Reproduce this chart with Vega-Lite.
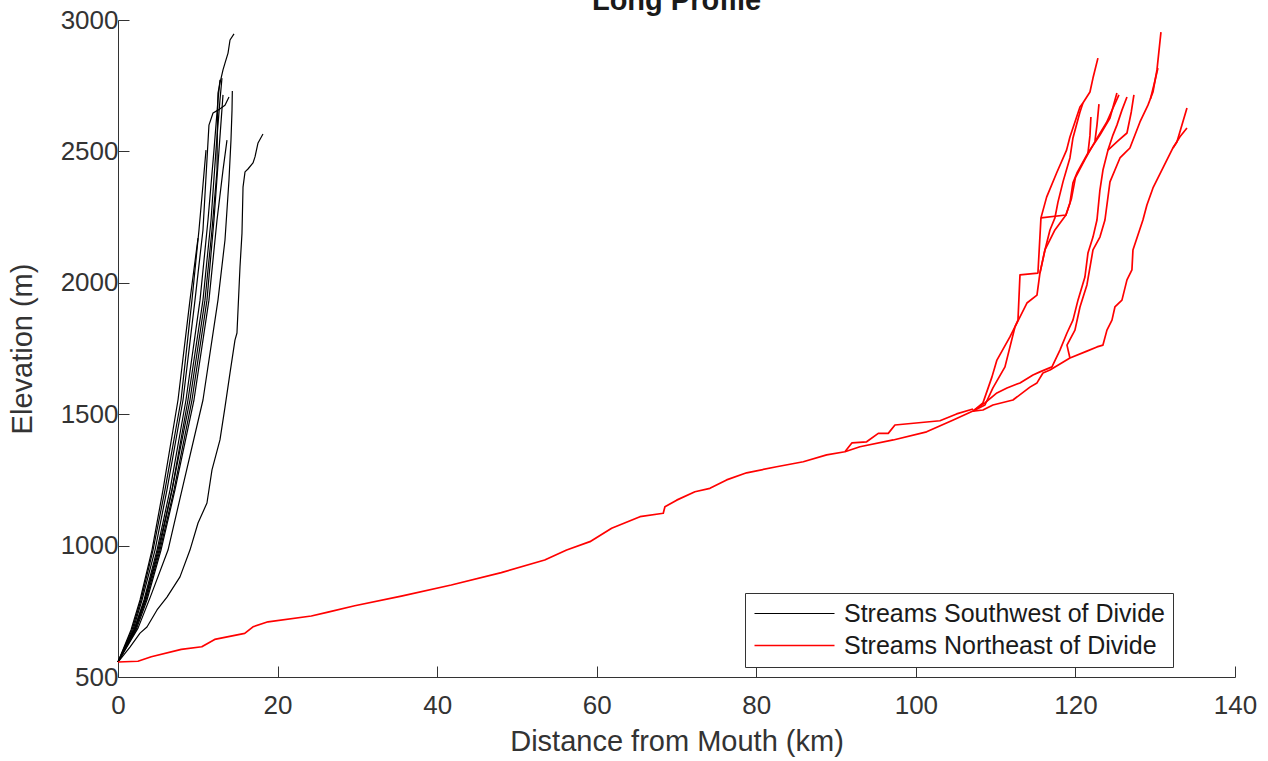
{
  "$schema": "https://vega.github.io/schema/vega-lite/v6.json",
  "autosize": {"type": "none"},
  "padding": {"left": 118, "top": 20, "right": 33, "bottom": 84},
  "width": 1117,
  "height": 657,
  "background": "white",
  "config": {"view": {"stroke": null}, "font": "Liberation Sans"},
  "title": {"text": "Long Profile", "anchor": "middle", "frame": "group", "fontSize": 29, "fontWeight": "bold", "font": "Liberation Sans", "color": "#1a1a1a", "offset": 0, "dy": 9},
  "datasets": {
    "pts": [
      {"s":"b8","g":"SW","x":0,"y":557},{"s":"b8","g":"SW","x":1.63,"y":679},{"s":"b8","g":"SW","x":2.76,"y":793},{"s":"b8","g":"SW","x":4.26,"y":983},{"s":"b8","g":"SW","x":5.64,"y":1212},{"s":"b8","g":"SW","x":7.52,"y":1554},{"s":"b8","g":"SW","x":9.02,"y":1934},{"s":"b8","g":"SW","x":10.03,"y":2170},
      {"s":"b7","g":"SW","x":0,"y":557},{"s":"b7","g":"SW","x":1.75,"y":679},{"s":"b7","g":"SW","x":2.88,"y":793},{"s":"b7","g":"SW","x":4.39,"y":983},{"s":"b7","g":"SW","x":5.89,"y":1212},{"s":"b7","g":"SW","x":7.9,"y":1554},{"s":"b7","g":"SW","x":9.27,"y":1934},{"s":"b7","g":"SW","x":10.15,"y":2201},{"s":"b7","g":"SW","x":10.65,"y":2372},{"s":"b7","g":"SW","x":11.03,"y":2505},
      {"s":"bc","g":"SW","x":0,"y":557},{"s":"bc","g":"SW","x":1.88,"y":679},{"s":"bc","g":"SW","x":3.01,"y":793},{"s":"bc","g":"SW","x":4.64,"y":983},{"s":"bc","g":"SW","x":6.14,"y":1212},{"s":"bc","g":"SW","x":8.15,"y":1554},{"s":"bc","g":"SW","x":9.65,"y":1934},{"s":"bc","g":"SW","x":10.65,"y":2201},{"s":"bc","g":"SW","x":11.15,"y":2467},{"s":"bc","g":"SW","x":11.4,"y":2600},{"s":"bc","g":"SW","x":11.91,"y":2646},{"s":"bc","g":"SW","x":12.53,"y":2657},{"s":"bc","g":"SW","x":13.41,"y":2676},{"s":"bc","g":"SW","x":13.91,"y":2707},
      {"s":"ba","g":"SW","x":0,"y":557},{"s":"ba","g":"SW","x":2.01,"y":679},{"s":"ba","g":"SW","x":3.26,"y":793},{"s":"ba","g":"SW","x":4.89,"y":983},{"s":"ba","g":"SW","x":6.52,"y":1212},{"s":"ba","g":"SW","x":8.52,"y":1554},{"s":"ba","g":"SW","x":10.28,"y":1934},{"s":"ba","g":"SW","x":11.28,"y":2239},{"s":"ba","g":"SW","x":12.03,"y":2505},{"s":"ba","g":"SW","x":12.53,"y":2695},{"s":"ba","g":"SW","x":12.78,"y":2772},
      {"s":"bb","g":"SW","x":0,"y":557},{"s":"bb","g":"SW","x":2.13,"y":679},{"s":"bb","g":"SW","x":3.38,"y":793},{"s":"bb","g":"SW","x":5.01,"y":983},{"s":"bb","g":"SW","x":6.77,"y":1212},{"s":"bb","g":"SW","x":8.77,"y":1554},{"s":"bb","g":"SW","x":10.65,"y":1934},{"s":"bb","g":"SW","x":11.66,"y":2239},{"s":"bb","g":"SW","x":12.28,"y":2505},{"s":"bb","g":"SW","x":12.78,"y":2695},{"s":"bb","g":"SW","x":13.03,"y":2779},
      {"s":"b1","g":"SW","x":0,"y":557},{"s":"b1","g":"SW","x":2.01,"y":679},{"s":"b1","g":"SW","x":3.38,"y":793},{"s":"b1","g":"SW","x":5.14,"y":983},{"s":"b1","g":"SW","x":6.77,"y":1212},{"s":"b1","g":"SW","x":9.02,"y":1554},{"s":"b1","g":"SW","x":10.9,"y":1934},{"s":"b1","g":"SW","x":11.78,"y":2201},{"s":"b1","g":"SW","x":12.41,"y":2429},{"s":"b1","g":"SW","x":12.45,"y":2581},{"s":"b1","g":"SW","x":12.53,"y":2722},{"s":"b1","g":"SW","x":12.78,"y":2760},{"s":"b1","g":"SW","x":13.16,"y":2810},{"s":"b1","g":"SW","x":13.41,"y":2836},{"s":"b1","g":"SW","x":13.79,"y":2874},{"s":"b1","g":"SW","x":14.04,"y":2924},{"s":"b1","g":"SW","x":14.54,"y":2947},
      {"s":"bcc","g":"SW","x":0,"y":557},{"s":"bcc","g":"SW","x":2.13,"y":679},{"s":"bcc","g":"SW","x":3.51,"y":793},{"s":"bcc","g":"SW","x":5.26,"y":983},{"s":"bcc","g":"SW","x":7.02,"y":1212},{"s":"bcc","g":"SW","x":9.27,"y":1554},{"s":"bcc","g":"SW","x":11.15,"y":1934},{"s":"bcc","g":"SW","x":12.03,"y":2239},{"s":"bcc","g":"SW","x":12.66,"y":2505},{"s":"bcc","g":"SW","x":13.16,"y":2715},
      {"s":"bd","g":"SW","x":0,"y":557},{"s":"bd","g":"SW","x":2.26,"y":679},{"s":"bd","g":"SW","x":3.63,"y":793},{"s":"bd","g":"SW","x":5.39,"y":983},{"s":"bd","g":"SW","x":7.14,"y":1212},{"s":"bd","g":"SW","x":9.52,"y":1554},{"s":"bd","g":"SW","x":11.4,"y":1934},{"s":"bd","g":"SW","x":12.41,"y":2239},{"s":"bd","g":"SW","x":13.16,"y":2429},{"s":"bd","g":"SW","x":13.66,"y":2543},
      {"s":"b3","g":"SW","x":0,"y":557},{"s":"b3","g":"SW","x":2.51,"y":686},{"s":"b3","g":"SW","x":4.01,"y":801},{"s":"b3","g":"SW","x":6.27,"y":983},{"s":"b3","g":"SW","x":8.02,"y":1212},{"s":"b3","g":"SW","x":10.65,"y":1554},{"s":"b3","g":"SW","x":12.53,"y":1934},{"s":"b3","g":"SW","x":13.41,"y":2163},{"s":"b3","g":"SW","x":13.91,"y":2391},{"s":"b3","g":"SW","x":14.16,"y":2543},{"s":"b3","g":"SW","x":14.29,"y":2657},{"s":"b3","g":"SW","x":14.33,"y":2730},
      {"s":"b2","g":"SW","x":0,"y":557},{"s":"b2","g":"SW","x":1.5,"y":614},{"s":"b2","g":"SW","x":2.76,"y":667},{"s":"b2","g":"SW","x":3.63,"y":690},{"s":"b2","g":"SW","x":4.89,"y":755},{"s":"b2","g":"SW","x":6.14,"y":804},{"s":"b2","g":"SW","x":7.77,"y":881},{"s":"b2","g":"SW","x":9.02,"y":983},{"s":"b2","g":"SW","x":10.03,"y":1086},{"s":"b2","g":"SW","x":11.15,"y":1162},{"s":"b2","g":"SW","x":11.78,"y":1288},{"s":"b2","g":"SW","x":12.78,"y":1402},{"s":"b2","g":"SW","x":13.41,"y":1527},{"s":"b2","g":"SW","x":14.04,"y":1657},{"s":"b2","g":"SW","x":14.66,"y":1782},{"s":"b2","g":"SW","x":14.91,"y":1809},{"s":"b2","g":"SW","x":15.29,"y":2060},{"s":"b2","g":"SW","x":15.54,"y":2189},{"s":"b2","g":"SW","x":15.67,"y":2364},{"s":"b2","g":"SW","x":15.92,"y":2422},{"s":"b2","g":"SW","x":16.29,"y":2433},{"s":"b2","g":"SW","x":16.92,"y":2456},{"s":"b2","g":"SW","x":17.17,"y":2479},{"s":"b2","g":"SW","x":17.55,"y":2532},{"s":"b2","g":"SW","x":18.17,"y":2566},

      {"s":"tr","g":"NE","x":0,"y":557},{"s":"tr","g":"NE","x":2.5,"y":560},{"s":"tr","g":"NE","x":4.17,"y":577},{"s":"tr","g":"NE","x":7.93,"y":605},{"s":"tr","g":"NE","x":10.5,"y":615},{"s":"tr","g":"NE","x":12.12,"y":643},{"s":"tr","g":"NE","x":15.88,"y":666},{"s":"tr","g":"NE","x":16.92,"y":691},{"s":"tr","g":"NE","x":18.8,"y":710},{"s":"tr","g":"NE","x":24.23,"y":732},{"s":"tr","g":"NE","x":26.32,"y":747},{"s":"tr","g":"NE","x":29.67,"y":771},{"s":"tr","g":"NE","x":35.51,"y":808},{"s":"tr","g":"NE","x":41.77,"y":850},{"s":"tr","g":"NE","x":48.04,"y":897},{"s":"tr","g":"NE","x":53.48,"y":945},{"s":"tr","g":"NE","x":56.23,"y":983},{"s":"tr","g":"NE","x":59.15,"y":1015},{"s":"tr","g":"NE","x":61.87,"y":1066},{"s":"tr","g":"NE","x":65.42,"y":1110},{"s":"tr","g":"NE","x":68.34,"y":1123},{"s":"tr","g":"NE","x":68.55,"y":1148},{"s":"tr","g":"NE","x":70.02,"y":1173},{"s":"tr","g":"NE","x":72.31,"y":1205},{"s":"tr","g":"NE","x":74.19,"y":1218},{"s":"tr","g":"NE","x":76.28,"y":1250},{"s":"tr","g":"NE","x":78.79,"y":1277},{"s":"tr","g":"NE","x":82.55,"y":1300},{"s":"tr","g":"NE","x":85.89,"y":1319},{"s":"tr","g":"NE","x":88.82,"y":1345},{"s":"tr","g":"NE","x":91.11,"y":1357},{"s":"tr","g":"NE","x":92.99,"y":1376},{"s":"tr","g":"NE","x":97.17,"y":1402},{"s":"tr","g":"NE","x":101.35,"y":1433},{"s":"tr","g":"NE","x":104.69,"y":1478},{"s":"tr","g":"NE","x":107.16,"y":1512},
      {"s":"ub","g":"NE","x":91.11,"y":1357},{"s":"ub","g":"NE","x":92.0,"y":1391},{"s":"ub","g":"NE","x":93.83,"y":1395},{"s":"ub","g":"NE","x":95.29,"y":1427},{"s":"ub","g":"NE","x":96.54,"y":1427},{"s":"ub","g":"NE","x":97.38,"y":1459},{"s":"ub","g":"NE","x":103.02,"y":1475},{"s":"ub","g":"NE","x":105.11,"y":1501},{"s":"ub","g":"NE","x":107.16,"y":1520},
      {"s":"f1","g":"NE","x":107.16,"y":1512},{"s":"f1","g":"NE","x":108.41,"y":1516},{"s":"f1","g":"NE","x":109.66,"y":1535},{"s":"f1","g":"NE","x":112.17,"y":1554},{"s":"f1","g":"NE","x":114.3,"y":1603},{"s":"f1","g":"NE","x":115.18,"y":1619},{"s":"f1","g":"NE","x":115.93,"y":1657},{"s":"f1","g":"NE","x":116.81,"y":1668},{"s":"f1","g":"NE","x":119.31,"y":1714},{"s":"f1","g":"NE","x":121.44,"y":1740},{"s":"f1","g":"NE","x":122.7,"y":1756},{"s":"f1","g":"NE","x":123.45,"y":1763},{"s":"f1","g":"NE","x":123.95,"y":1820},{"s":"f1","g":"NE","x":124.58,"y":1858},{"s":"f1","g":"NE","x":124.95,"y":1908},{"s":"f1","g":"NE","x":125.83,"y":1934},{"s":"f1","g":"NE","x":126.46,"y":2011},{"s":"f1","g":"NE","x":127.08,"y":2049},{"s":"f1","g":"NE","x":127.21,"y":2125},{"s":"f1","g":"NE","x":128.46,"y":2239},{"s":"f1","g":"NE","x":128.96,"y":2296},{"s":"f1","g":"NE","x":129.72,"y":2361},{"s":"f1","g":"NE","x":130.97,"y":2437},{"s":"f1","g":"NE","x":132.22,"y":2513},{"s":"f1","g":"NE","x":132.72,"y":2536},{"s":"f1","g":"NE","x":133.98,"y":2665},
      {"s":"f2","g":"NE","x":132.22,"y":2513},{"s":"f2","g":"NE","x":133.1,"y":2556},{"s":"f2","g":"NE","x":133.98,"y":2589},
      {"s":"m1","g":"NE","x":107.16,"y":1512},{"s":"m1","g":"NE","x":108.66,"y":1543},{"s":"m1","g":"NE","x":110.16,"y":1581},{"s":"m1","g":"NE","x":111.42,"y":1600},{"s":"m1","g":"NE","x":113.05,"y":1619},{"s":"m1","g":"NE","x":114.68,"y":1649},{"s":"m1","g":"NE","x":115.55,"y":1661},{"s":"m1","g":"NE","x":117.06,"y":1680},{"s":"m1","g":"NE","x":118.06,"y":1744},{"s":"m1","g":"NE","x":118.94,"y":1809},{"s":"m1","g":"NE","x":119.69,"y":1858},{"s":"m1","g":"NE","x":120.32,"y":1934},{"s":"m1","g":"NE","x":121.19,"y":2022},{"s":"m1","g":"NE","x":121.57,"y":2113},{"s":"m1","g":"NE","x":122.2,"y":2174},{"s":"m1","g":"NE","x":122.7,"y":2239},{"s":"m1","g":"NE","x":123.07,"y":2353},{"s":"m1","g":"NE","x":123.45,"y":2429},{"s":"m1","g":"NE","x":124.08,"y":2505},{"s":"m1","g":"NE","x":124.7,"y":2562},{"s":"m1","g":"NE","x":125.2,"y":2600},{"s":"m1","g":"NE","x":125.83,"y":2657},{"s":"m1","g":"NE","x":126.46,"y":2707},
      {"s":"m2","g":"NE","x":119.31,"y":1714},{"s":"m2","g":"NE","x":118.94,"y":1763},{"s":"m2","g":"NE","x":119.94,"y":1820},{"s":"m2","g":"NE","x":120.57,"y":1908},{"s":"m2","g":"NE","x":121.44,"y":1992},{"s":"m2","g":"NE","x":122.2,"y":2125},{"s":"m2","g":"NE","x":123.07,"y":2174},{"s":"m2","g":"NE","x":123.7,"y":2239},{"s":"m2","g":"NE","x":124.33,"y":2384},{"s":"m2","g":"NE","x":125.58,"y":2475},{"s":"m2","g":"NE","x":126.21,"y":2494},{"s":"m2","g":"NE","x":126.83,"y":2513},{"s":"m2","g":"NE","x":128.09,"y":2612},{"s":"m2","g":"NE","x":129.09,"y":2676},{"s":"m2","g":"NE","x":129.72,"y":2726},{"s":"m2","g":"NE","x":130.22,"y":2810},{"s":"m2","g":"NE","x":130.72,"y":2954},
      {"s":"m2b","g":"NE","x":129.4,"y":2700},{"s":"m2b","g":"NE","x":129.9,"y":2760},{"s":"m2b","g":"NE","x":130.34,"y":2817},
      {"s":"m3","g":"NE","x":124.08,"y":2505},{"s":"m3","g":"NE","x":125.33,"y":2540},{"s":"m3","g":"NE","x":126.46,"y":2570},{"s":"m3","g":"NE","x":127.0,"y":2650},{"s":"m3","g":"NE","x":127.33,"y":2715},
      {"s":"l1","g":"NE","x":107.16,"y":1512},{"s":"l1","g":"NE","x":108.41,"y":1543},{"s":"l1","g":"NE","x":109.54,"y":1642},{"s":"l1","g":"NE","x":110.16,"y":1706},{"s":"l1","g":"NE","x":111.79,"y":1794},{"s":"l1","g":"NE","x":112.42,"y":1832},{"s":"l1","g":"NE","x":112.8,"y":1858},{"s":"l1","g":"NE","x":113.05,"y":2030},{"s":"l1","g":"NE","x":115.3,"y":2037},{"s":"l1","g":"NE","x":115.68,"y":2247},{"s":"l1","g":"NE","x":116.39,"y":2326},{"s":"l1","g":"NE","x":117.64,"y":2418},{"s":"l1","g":"NE","x":118.89,"y":2505},{"s":"l1","g":"NE","x":119.31,"y":2555},{"s":"l1","g":"NE","x":120.15,"y":2631},{"s":"l1","g":"NE","x":120.57,"y":2669},{"s":"l1","g":"NE","x":120.94,"y":2684},
      {"s":"l3","g":"NE","x":115.68,"y":2247},{"s":"l3","g":"NE","x":118.81,"y":2258},{"s":"l3","g":"NE","x":119.31,"y":2304},{"s":"l3","g":"NE","x":119.69,"y":2380},{"s":"l3","g":"NE","x":120.19,"y":2418},{"s":"l3","g":"NE","x":121.57,"y":2494},{"s":"l3","g":"NE","x":123.07,"y":2562},{"s":"l3","g":"NE","x":124.33,"y":2627},{"s":"l3","g":"NE","x":125.2,"y":2722},
      {"s":"la","g":"NE","x":107.16,"y":1512},{"s":"la","g":"NE","x":108.66,"y":1535},{"s":"la","g":"NE","x":109.66,"y":1600},{"s":"la","g":"NE","x":111.17,"y":1680},{"s":"la","g":"NE","x":112.42,"y":1832},{"s":"la","g":"NE","x":113.92,"y":1923},{"s":"la","g":"NE","x":115.18,"y":1953},{"s":"la","g":"NE","x":115.55,"y":2037},{"s":"la","g":"NE","x":116.18,"y":2125},{"s":"la","g":"NE","x":117.43,"y":2201},{"s":"la","g":"NE","x":118.81,"y":2258},{"s":"la","g":"NE","x":119.5,"y":2320},{"s":"la","g":"NE","x":120.0,"y":2400},{"s":"la","g":"NE","x":121.2,"y":2470},{"s":"la","g":"NE","x":122.5,"y":2540},{"s":"la","g":"NE","x":123.9,"y":2610},{"s":"la","g":"NE","x":125.45,"y":2715},
      {"s":"l2","g":"NE","x":115.55,"y":2037},{"s":"l2","g":"NE","x":116.18,"y":2125},{"s":"l2","g":"NE","x":116.81,"y":2201},{"s":"l2","g":"NE","x":117.43,"y":2247},{"s":"l2","g":"NE","x":117.81,"y":2307},{"s":"l2","g":"NE","x":118.44,"y":2384},{"s":"l2","g":"NE","x":119.31,"y":2475},{"s":"l2","g":"NE","x":119.69,"y":2551},{"s":"l2","g":"NE","x":120.57,"y":2650},{"s":"l2","g":"NE","x":120.94,"y":2684},{"s":"l2","g":"NE","x":121.82,"y":2726},{"s":"l2","g":"NE","x":122.2,"y":2779},{"s":"l2","g":"NE","x":122.82,"y":2855},
      {"s":"lb","g":"NE","x":121.57,"y":2494},{"s":"lb","g":"NE","x":121.82,"y":2560},{"s":"lb","g":"NE","x":121.94,"y":2631},
      {"s":"lc","g":"NE","x":122.45,"y":2540},{"s":"lc","g":"NE","x":122.7,"y":2600},{"s":"lc","g":"NE","x":122.95,"y":2680}
    ]
  },
  "data": {"name": "pts"},
  "mark": {"type": "line", "strokeJoin": "round"},
  "encoding": {
    "x": {"field": "x", "type": "quantitative", "scale": {"domain": [0, 140], "nice": false, "zero": false},
      "axis": {"title": "Distance from Mouth (km)", "values": [0, 20, 40, 60, 80, 100, 120, 140], "grid": false, "domainColor": "#333333", "tickColor": "#333333", "tickSize": -11, "labelFontSize": 26, "labelFont": "Liberation Sans", "labelColor": "#333333", "labelPadding": 26, "labelFlush": false, "labelOverlap": false, "titleFontSize": 29, "titleFont": "Liberation Sans", "titleFontWeight": "normal", "titleColor": "#333333", "titlePadding": 9}},
    "y": {"field": "y", "type": "quantitative", "scale": {"domain": [500, 3000], "nice": false, "zero": false},
      "axis": {"title": "Elevation (m)", "format": "d", "values": [500, 1000, 1500, 2000, 2500, 3000], "grid": false, "domainColor": "#333333", "tickColor": "#333333", "tickSize": -11, "labelFontSize": 26, "labelFont": "Liberation Sans", "labelColor": "#333333", "labelPadding": 11, "labelFlush": false, "labelOverlap": false, "titleFontSize": 29, "titleFont": "Liberation Sans", "titleFontWeight": "normal", "titleColor": "#333333", "titlePadding": 23}},
    "color": {"field": "g", "type": "nominal", "scale": {"domain": ["SW", "NE"], "range": ["#000000", "#ff0000"]},
      "legend": {"title": null, "orient": "none", "legendX": 627, "legendY": 573, "direction": "vertical", "symbolType": "M-8,0H8", "symbolSize": 100, "symbolStrokeWidth": 1.2, "symbolOffset": 29, "labelOffset": 37, "labelFontSize": 25, "labelFont": "Liberation Sans", "labelColor": "#1a1a1a", "labelExpr": "datum.value == 'SW' ? 'Streams Southwest of Divide' : 'Streams Northeast of Divide'", "padding": 8, "rowPadding": 6, "strokeColor": "#333333", "fillColor": "white", "cornerRadius": 0, "labelLimit": 0}},
    "strokeWidth": {"field": "g", "type": "nominal", "scale": {"domain": ["SW", "NE"], "range": [1.2, 1.7]}, "legend": null},
    "detail": {"field": "s", "type": "nominal"},
    "order": {"value": null}
  }
}
